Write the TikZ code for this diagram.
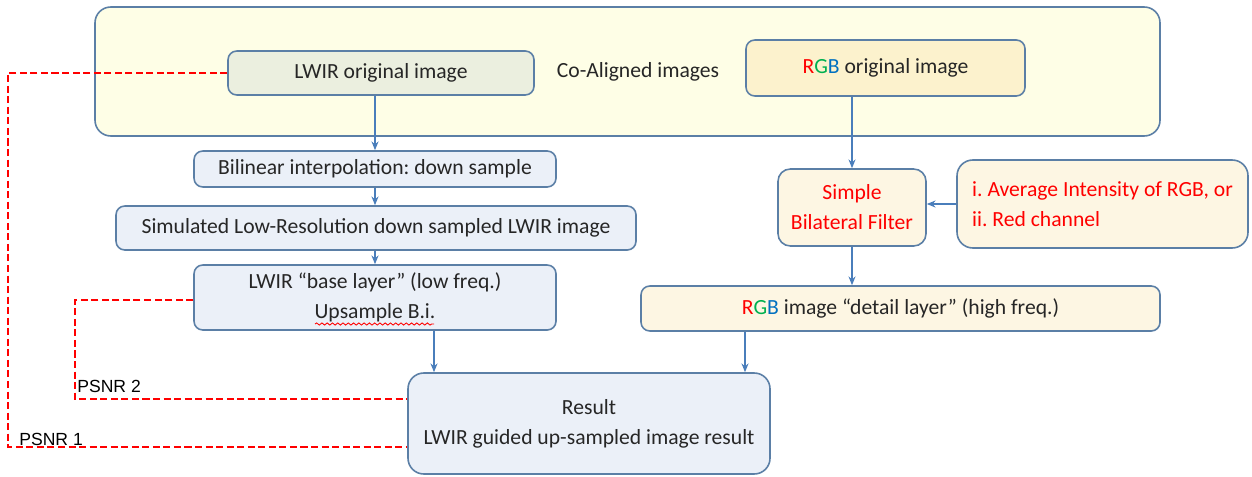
\documentclass[tikz,border=0pt]{standalone}
\usepackage{fontspec}
\setmainfont{Carlito}
\newfontfamily\labelfont{Liberation Sans}
\usepackage{xcolor}
\usetikzlibrary{arrows.meta,positioning,calc,decorations.pathmorphing}
\frenchspacing

\definecolor{edgeblue}{HTML}{5B7FA6}
\definecolor{arrowblue}{HTML}{4A7EBB}
\definecolor{panelfill}{HTML}{FEFEE6}
\definecolor{lwirfill}{HTML}{EBEFDF}
\definecolor{rgbfill}{HTML}{FCF2CD}
\definecolor{stepfill}{HTML}{EBF0F8}
\definecolor{creamfill}{HTML}{FDF6E3}
\definecolor{rchan}{HTML}{FF0000}
\definecolor{gchan}{HTML}{00B050}
\definecolor{bchan}{HTML}{0070C0}
\definecolor{txtgray}{HTML}{262626}

\newcommand{\rgbword}{{\color{rchan}R\color{gchan}G\color{bchan}B}}

\begin{document}
\begin{tikzpicture}[
    box/.style={rectangle, rounded corners=5pt, draw=edgeblue, line width=0.9pt, text=txtgray,
        font=\fontsize{12.3}{17}\selectfont, align=center, inner sep=0pt},
    stepbox/.style={box, fill=stepfill},
    filterbox/.style={box, fill=creamfill, text=rchan},
    arrow/.style={-{Stealth[length=5pt,width=4pt]}, arrowblue, line width=0.8pt},
    psnr/.style={red, dashed, line width=0.9pt, dash pattern=on 4pt off 2pt},
    psnrlabel/.style={font=\labelfont\fontsize{10}{12}\selectfont, text=black, anchor=west, inner sep=0pt}
]
    \useasboundingbox (0,0) rectangle (25.04,9.52);

    % Co-aligned input pair
    \node[box, rounded corners=9pt, fill=panelfill, minimum width=21.3cm, minimum height=2.58cm] (panel) at (12.55,8.09) {};
    \node[box, fill=lwirfill, minimum width=6.12cm, minimum height=0.88cm] (lwir) at (7.62,8.06) {LWIR original image};
    \node[text=txtgray, font=\fontsize{12.3}{17}\selectfont] (coalign) at (12.76,8.08) {Co-Aligned images};
    \node[box, fill=rgbfill, minimum width=5.58cm, minimum height=1.12cm] (rgb) at (17.71,8.16) {\rgbword{} original image};

    % LWIR branch
    \node[stepbox, minimum width=7.24cm, minimum height=0.72cm] (bilin) at (7.50,6.14) {Bilinear interpolation: down sample};
    \node[stepbox, minimum width=10.4cm, minimum height=0.88cm] (lowres) at (7.52,4.96) {Simulated Low-Resolution down sampled LWIR image};
    \node[stepbox, minimum width=7.24cm, minimum height=1.30cm] (base) at (7.50,3.57) {LWIR ``base layer'' (low freq.)\\Upsample B.i.};

    % RGB branch
    \node[filterbox, rounded corners=7pt, minimum width=2.96cm, minimum height=1.54cm] (filt) at (17.04,5.37) {Simple\\Bilateral Filter};
    \node[filterbox, rounded corners=9pt, align=left, minimum width=5.82cm, minimum height=1.76cm] (guide) at (22.05,5.44) {i. Average Intensity of RGB, or\\ii. Red channel};
    \node[box, fill=creamfill, minimum width=10.38cm, minimum height=0.90cm] (detail) at (18.01,3.35) {\rgbword{} image ``detail layer'' (high freq.)};

    % Output
    \node[stepbox, rounded corners=9pt, minimum width=7.24cm, minimum height=2.02cm] (result) at (11.78,1.05) {Result\\LWIR guided up-sampled image result};

    % spell-check squiggle
    \draw[red, line width=0.5pt, decorate, decoration={snake, amplitude=0.6pt, segment length=3pt}] (6.30,3.04) -- (8.68,3.04);

    % Flow arrows
    \draw[arrow] (bilin.north |- lwir.south) -- (bilin.north);
    \draw[arrow] (bilin.south) -- (bilin.south |- lowres.north);
    \draw[arrow] (bilin.south |- lowres.south) -- (base.north);
    \coordinate (b2r) at ([xshift=1.18cm]base.south);
    \draw[arrow] (b2r) -- (b2r |- result.north);
    \coordinate (d2r) at ([xshift=-3.11cm]detail.south);
    \draw[arrow] (d2r) -- (d2r |- result.north);
    \draw[arrow] (filt.north |- rgb.south) -- (filt.north);
    \draw[arrow] (filt.south) -- (filt.south |- detail.north);
    \draw[arrow] (guide.west) -- (guide.west -| filt.east);

    % PSNR comparisons
    \coordinate (p1) at (0.16,8.06);
    \coordinate (p2) at (1.50,3.52);
    \draw[psnr] (lwir.west) -- (p1) |- ([yshift=-0.47cm]result.west);
    \draw[psnr] (base.west |- p2) -- (p2) |- ([yshift=0.49cm]result.west);
    \node[psnrlabel] (psnr2) at (1.54,1.80) {PSNR 2};
    \node[psnrlabel] (psnr1) at (0.38,0.74) {PSNR 1};
\end{tikzpicture}
\end{document}
